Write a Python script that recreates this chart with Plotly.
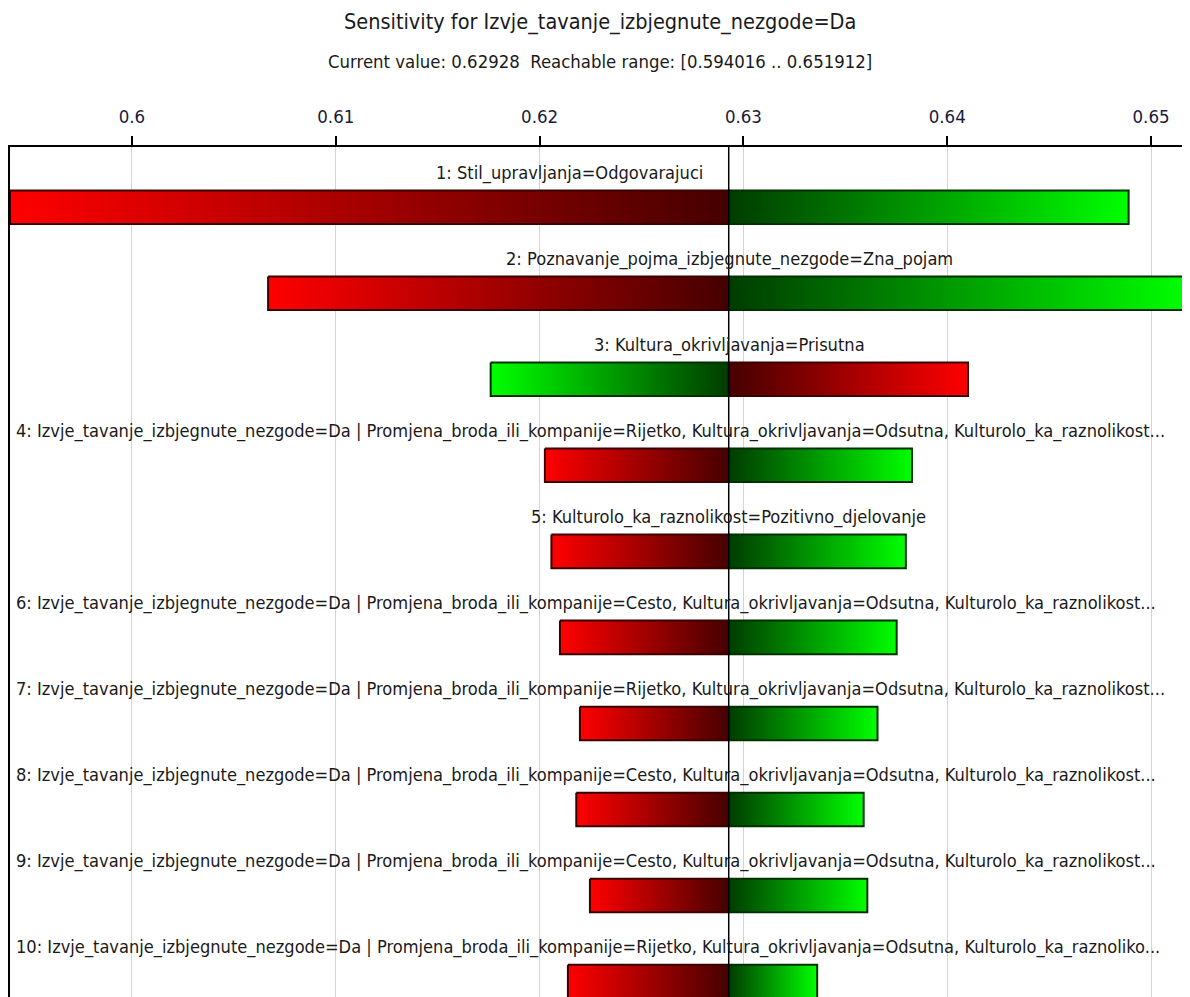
import plotly.graph_objects as go

# ---------------- data ----------------
title_text = "Sensitivity for Izvje_tavanje_izbjegnute_nezgode=Da"
subtitle_text = "Current value: 0.62928  Reachable range: [0.594016 .. 0.651912]"
current_value = 0.62928
range_min = 0.594016
range_max = 0.651912

labels = [
    "1: Stil_upravljanja=Odgovarajuci",
    "2: Poznavanje_pojma_izbjegnute_nezgode=Zna_pojam",
    "3: Kultura_okrivljavanja=Prisutna",
    "4: Izvje_tavanje_izbjegnute_nezgode=Da | Promjena_broda_ili_kompanije=Rijetko, Kultura_okrivljavanja=Odsutna, Kulturolo_ka_raznolikost...",
    "5: Kulturolo_ka_raznolikost=Pozitivno_djelovanje",
    "6: Izvje_tavanje_izbjegnute_nezgode=Da | Promjena_broda_ili_kompanije=Cesto, Kultura_okrivljavanja=Odsutna, Kulturolo_ka_raznolikost...",
    "7: Izvje_tavanje_izbjegnute_nezgode=Da | Promjena_broda_ili_kompanije=Rijetko, Kultura_okrivljavanja=Odsutna, Kulturolo_ka_raznolikost...",
    "8: Izvje_tavanje_izbjegnute_nezgode=Da | Promjena_broda_ili_kompanije=Cesto, Kultura_okrivljavanja=Odsutna, Kulturolo_ka_raznolikost...",
    "9: Izvje_tavanje_izbjegnute_nezgode=Da | Promjena_broda_ili_kompanije=Cesto, Kultura_okrivljavanja=Odsutna, Kulturolo_ka_raznolikost...",
    "10: Izvje_tavanje_izbjegnute_nezgode=Da | Promjena_broda_ili_kompanije=Rijetko, Kultura_okrivljavanja=Odsutna, Kulturolo_ka_raznoliko...",
]
low_values = [0.594016, 0.60668, 0.61760, 0.62026, 0.62058, 0.62100, 0.62198, 0.62180, 0.62247, 0.62139]
high_values = [0.64890, 0.651912, 0.64102, 0.63827, 0.63797, 0.63752, 0.63658, 0.63590, 0.63608, 0.63362]
# True when the low end of the range is the "good" (green) side
low_is_green = [False, False, True, False, False, False, False, False, False, False]

tick_vals = [0.60, 0.61, 0.62, 0.63, 0.64, 0.65]
tick_text = ["0.6", "0.61", "0.62", "0.63", "0.64", "0.65"]

# ---------------- style ----------------
FONT = "Liberation Sans Narrow, Arial Narrow, DejaVu Sans Condensed, sans-serif"
RED_BRIGHT, RED_DARK, RED_LINE = "#ff0000", "#460000", "#3a0000"
GRN_BRIGHT, GRN_DARK, GRN_LINE = "#00ff00", "#003c00", "#003000"
HALF_H = 0.195          # half bar height in row units
LABEL_OFF = 0.40        # label offset above bar centre (row units)
Y_TOP, Y_BOTTOM = -0.70, 9.18
PLOT_H = 850            # plot area height in px

fig = go.Figure()


def half_bar(x0, x1, row, bright_at_left, red):
    bright, dark, line = (RED_BRIGHT, RED_DARK, RED_LINE) if red else (GRN_BRIGHT, GRN_DARK, GRN_LINE)
    cs = [[0, bright], [1, dark]] if bright_at_left else [[0, dark], [1, bright]]
    fig.add_trace(go.Scatter(
        x=[x0, x1, x1, x0, x0],
        y=[row - HALF_H, row - HALF_H, row + HALF_H, row + HALF_H, row - HALF_H],
        mode="lines", fill="toself",
        fillgradient=dict(type="horizontal", colorscale=cs),
        line=dict(color=line, width=2),
        hoverinfo="skip", showlegend=False,
    ))


for i, (lo, hi, lg) in enumerate(zip(low_values, high_values, low_is_green)):
    half_bar(lo, current_value, i, bright_at_left=True, red=not lg)
    half_bar(current_value, hi, i, bright_at_left=False, red=lg)

# current value marker triangle above axis
fig.add_trace(go.Scatter(
    x=[current_value], y=[Y_TOP - 0.085], mode="markers",
    marker=dict(symbol="triangle-down", size=15, color="#00e5ee",
                line=dict(color="#000000", width=1.5)),
    cliponaxis=False, hoverinfo="skip", showlegend=False,
))

LABEL_FONT = dict(family=FONT, size=18.1, color="#1a1a1a")
annotations = []
for i, (lab, lo, hi) in enumerate(zip(labels, low_values, high_values)):
    if lab.endswith("..."):
        annotations.append(dict(x=0, xref="paper", xanchor="left", xshift=4,
                                y=i - LABEL_OFF, yref="y", yanchor="middle",
                                text=lab, showarrow=False, font=LABEL_FONT))
    else:
        annotations.append(dict(x=(lo + hi) / 2, xref="x", xanchor="center",
                                y=i - LABEL_OFF, yref="y", yanchor="middle",
                                text=lab, showarrow=False, font=LABEL_FONT))

annotations.append(dict(x=0.5, xref="paper", y=1 + 125 / PLOT_H, yref="paper", yanchor="middle",
                        text=title_text, showarrow=False,
                        font=dict(family=FONT, size=21.5, color="#1a1a1a")))
annotations.append(dict(x=0.5, xref="paper", y=1 + 85 / PLOT_H, yref="paper", yanchor="middle",
                        text=subtitle_text, showarrow=False,
                        font=dict(family=FONT, size=18.4, color="#1a1a1a")))

fig.update_layout(
    width=1182, height=989,
    margin=dict(l=2, r=0, t=139, b=0, autoexpand=False),
    paper_bgcolor="white", plot_bgcolor="white",
    annotations=annotations,
    shapes=[dict(type="line", xref="x", yref="paper", x0=current_value, x1=current_value,
                 y0=0, y1=1, line=dict(color="#000000", width=1.5), layer="above")],
    xaxis=dict(range=[range_min, range_max], side="top",
               tickvals=tick_vals, ticktext=tick_text,
               ticks="outside", ticklen=9, tickwidth=1.5, tickcolor="#000000",
               ticklabelstandoff=6,
               showline=True, linecolor="#000000", linewidth=2,
               showgrid=True, gridcolor="#d4d4d4", gridwidth=1,
               zeroline=False, fixedrange=True,
               tickfont=dict(family=FONT, size=18.5, color="#1a1a3a")),
    yaxis=dict(range=[Y_BOTTOM, Y_TOP], showticklabels=False, showgrid=False,
               zeroline=False, showline=True, linecolor="#000000", linewidth=2,
               ticks="", fixedrange=True),
)

fig.write_html("out.html")
